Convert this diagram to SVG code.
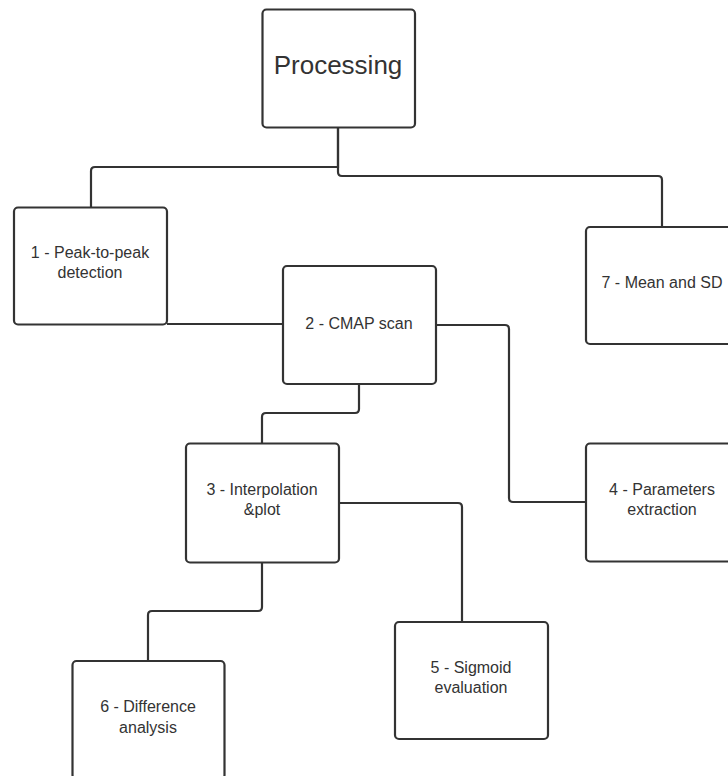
<svg xmlns="http://www.w3.org/2000/svg" width="728" height="776" viewBox="0 0 728 776">
<style>
.box{fill:#ffffff;stroke:#333333;stroke-width:2.2}
.con{fill:none;stroke:#333333;stroke-width:2.2}
.t{font-family:"Liberation Sans",Arial,sans-serif;font-size:16px;fill:#333333;text-anchor:middle}
.big{font-size:26px}
</style>
<rect width="728" height="776" fill="#ffffff"/>
<g id="connectors">
<path class="con" d="M338,128 V167 H95 Q91,167 91,171 V207"/>
<path class="con" d="M338,128 V172 Q338,176 342,176 H658 Q662,176 662,180 V227"/>
<path class="con" d="M167,324 H283"/>
<path class="con" d="M436,325 H505 Q509,325 509,329 V498 Q509,502 513,502 H586"/>
<path class="con" d="M359,384 V409 Q359,413 355,413 H266 Q262,413 262,417 V443"/>
<path class="con" d="M339,503 H458 Q462,503 462,507 V622"/>
<path class="con" d="M262,562 V607 Q262,611 258,611 H152 Q148,611 148,615 V661"/>
</g>
<g id="processing">
<rect class="box" x="262.5" y="9.5" width="152.5" height="118" rx="4"/>
<text class="t big" x="338" y="74">Processing</text>
</g>
<g id="node1">
<rect class="box" x="14" y="207.5" width="153" height="117" rx="4"/>
<text class="t" x="90" y="258">1 - Peak-to-peak</text>
<text class="t" x="90" y="278">detection</text>
</g>
<g id="node2">
<rect class="box" x="283" y="266" width="153" height="118" rx="4"/>
<text class="t" x="359" y="329">2 - CMAP scan</text>
</g>
<g id="node7">
<rect class="box" x="586" y="227" width="153" height="117" rx="4"/>
<text class="t" x="662" y="288">7 - Mean and SD</text>
</g>
<g id="node3">
<rect class="box" x="186" y="443.5" width="153" height="119" rx="4"/>
<text class="t" x="262" y="495">3 - Interpolation</text>
<text class="t" x="262" y="515">&amp;plot</text>
</g>
<g id="node4">
<rect class="box" x="586" y="443.5" width="153" height="118" rx="4"/>
<text class="t" x="662" y="495">4 - Parameters</text>
<text class="t" x="662" y="515">extraction</text>
</g>
<g id="node5">
<rect class="box" x="395" y="622" width="153" height="117" rx="4"/>
<text class="t" x="471" y="673">5 - Sigmoid</text>
<text class="t" x="471" y="693">evaluation</text>
</g>
<g id="node6">
<rect class="box" x="72.5" y="661" width="152" height="118" rx="4"/>
<text class="t" x="148" y="712">6 - Difference</text>
<text class="t" x="148" y="733">analysis</text>
</g>
</svg>
